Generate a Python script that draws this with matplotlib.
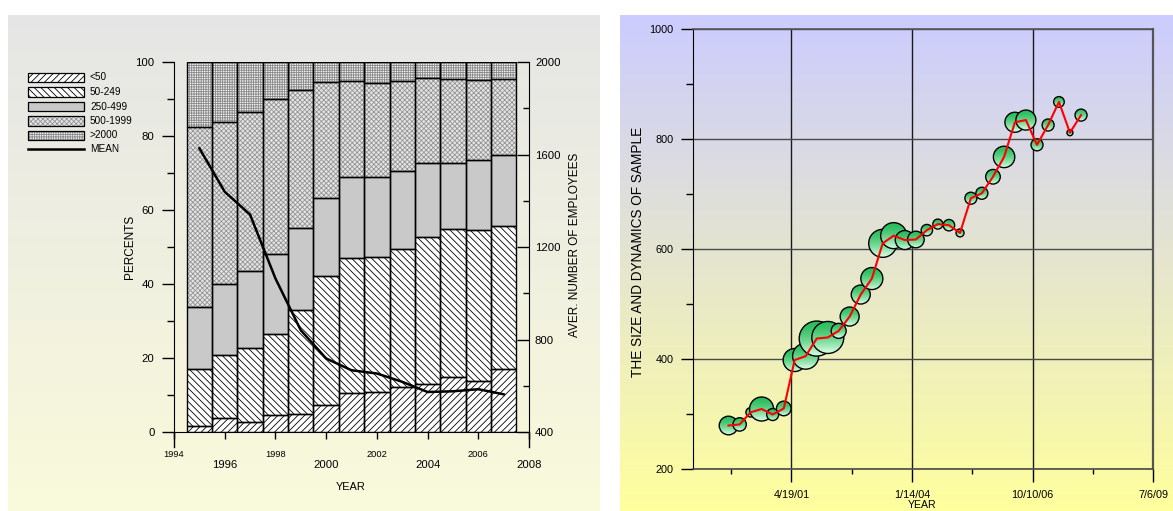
import datetime as dt
import numpy as np
import pandas as pd
import matplotlib
matplotlib.use("Agg")
import matplotlib.pyplot as plt
import matplotlib.dates as mdates
from matplotlib.patches import Rectangle, Ellipse
from matplotlib.ticker import FixedLocator, FuncFormatter

plt.rcParams["font.family"] = ["Liberation Sans", "DejaVu Sans"]
plt.rcParams["hatch.linewidth"] = 0.6

# left chart: structure of firms by number of employees, percent
years = [1995, 1996, 1997, 1998, 1999, 2000, 2001, 2002, 2003, 2004, 2005, 2006, 2007]
size_lt50 = [1.5, 3.9, 2.7, 4.6, 4.8, 7.4, 10.6, 10.9, 12.2, 13.1, 14.9, 13.9, 17.0]
size_50_249 = [15.6, 17.0, 20.1, 21.8, 28.2, 34.7, 36.3, 36.3, 37.3, 39.7, 39.9, 40.6, 38.8]
size_250_499 = [16.6, 19.0, 20.7, 21.6, 22.1, 21.2, 22.0, 21.6, 21.1, 20.0, 17.9, 18.9, 19.1]
size_500_1999 = [48.7, 43.9, 43.0, 41.9, 37.3, 31.3, 25.9, 25.4, 24.2, 22.9, 22.7, 21.7, 20.4]
size_gt2000 = [17.6, 16.2, 13.5, 10.1, 7.6, 5.4, 5.2, 5.8, 5.2, 4.3, 4.6, 4.9, 4.7]
mean_employees = [1627, 1439, 1340, 1064, 840, 718, 667, 653, 617, 573, 576, 585, 563]
class_labels = ["<50", "50-249", "250-499", "500-1999", ">2000"]

# right chart: sample size by quarter, bubble weight per observation
quarters = pd.period_range("1999Q4", "2007Q4", freq="Q")
sample_size = [279, 281, 303, 309, 299, 310, 398, 405, 437, 439, 451, 477, 517,
               546, 610, 624, 616, 617, 634, 645, 643, 629, 692, 701, 731, 767,
               830, 834, 789, 825, 867, 811, 843]
weight = [9.3, 6.7, 4.7, 12.0, 6.0, 7.3, 11.5, 13.0, 17.5, 16.0, 7.5, 9.5, 9.5,
          11.0, 14.0, 13.0, 9.5, 8.3, 5.7, 5.0, 5.7, 4.0, 6.0, 6.0, 7.3, 10.7,
          10.0, 10.0, 6.0, 6.0, 5.3, 3.0, 6.0]

W, H = 1173, 511
fig = plt.figure(figsize=(W / 100, H / 100), dpi=100)


def vgrad(top, bottom, n=256, power=1.0):
    t = (np.linspace(0, 1, n) ** power)[:, None, None]
    return (1 - t) * np.array(top) + t * np.array(bottom)


# backgrounds + hand-made legend, in pixel coords
bg = fig.add_axes([0, 0, 1, 1], zorder=-10)
bg.imshow(vgrad((0.90, 0.90, 0.90), (0.98, 0.98, 0.86)), extent=(8, 600, H, 15),
          aspect="auto", interpolation="bilinear")
bg.imshow(vgrad((0.80, 0.80, 1.0), (1.0, 1.0, 0.62)), extent=(620, W, H, 15),
          aspect="auto", interpolation="bilinear")
bg.set_xlim(0, W)
bg.set_ylim(H, 0)
bg.axis("off")

# face, hatch, hatch colour
styles = [
    ("white", "/////", "black"),
    ("white", "\\\\\\\\\\", "black"),
    ("#c9c9c9", None, "#c9c9c9"),
    ("#e4e4e4", "xxxxxxx", "#959595"),
    ("#f0f0f0", "+++++++", "#8a8a8a"),
]

for i, (lab, (face, hatch, hc)) in enumerate(zip(class_labels, styles)):
    y = 77.5 + i * 14.5
    bg.add_patch(Rectangle((28, y - 4.8), 56, 9.6, facecolor=face, hatch=hatch,
                           edgecolor=hc, linewidth=0))
    bg.add_patch(Rectangle((28, y - 4.8), 56, 9.6, fill=False, edgecolor="black", linewidth=0.9))
    bg.text(90, y, lab, va="center", ha="left", fontsize=7.2)
bg.plot([28, 84], [149.5, 149.5], color="black", lw=1.8)
bg.text(90, 149.5, "MEAN", va="center", ha="left", fontsize=7.2)

# ---------------- left chart ----------------
axl = fig.add_axes([174 / W, (H - 432) / H, 355 / W, 370 / H])
axl.set_facecolor("none")
bottom = np.zeros(len(years))
for vals, (face, hatch, hc) in zip([size_lt50, size_50_249, size_250_499,
                                    size_500_1999, size_gt2000], styles):
    vals = np.array(vals)
    axl.bar(years, vals, 1.0, bottom=bottom, color=face, hatch=hatch,
            edgecolor=hc, linewidth=0, zorder=2)
    axl.bar(years, vals, 1.0, bottom=bottom, fill=False, edgecolor="black",
            linewidth=1.0, zorder=3)
    bottom += vals

axl.set_xlim(1994, 2008)
axl.set_ylim(0, 100)
for s in ["top", "right"]:
    axl.spines[s].set_visible(False)
axl.set_yticks([0, 20, 40, 60, 80, 100])
axl.yaxis.set_minor_locator(FixedLocator([10, 30, 50, 70, 90]))
axl.tick_params(axis="y", which="major", length=8.6, width=1, pad=5.5, labelsize=8.2)
axl.tick_params(axis="y", which="minor", length=5, width=1)
axl.set_xticks([1996, 2000, 2004, 2008])
axl.set_xticks([1994, 1998, 2002, 2006], minor=True)
axl.set_xticklabels(["1996", "2000", "2004", "2008"])
axl.set_xticklabels(["1994", "1998", "2002", "2006"], minor=True)
axl.tick_params(axis="x", which="major", length=5, width=1, pad=15, labelsize=8.1)
axl.tick_params(axis="x", which="minor", length=5, width=1, pad=8.2, labelsize=6.7)
for xv in (1994, 2008):
    axl.plot([xv, xv], [0, -4.1], color="black", lw=1, clip_on=False)

ax2 = axl.twinx()
ax2.set_ylim(400, 2000)
for s in ["top", "left", "bottom"]:
    ax2.spines[s].set_visible(False)
ax2.set_yticks([400, 800, 1200, 1600, 2000])
ax2.yaxis.set_minor_locator(FixedLocator([600, 1000, 1400, 1800]))
ax2.tick_params(axis="y", which="major", direction="in", length=8.6, width=1,
                pad=4.3, labelsize=8.2)
ax2.tick_params(axis="y", which="minor", direction="in", length=4.5, width=1)
ax2.plot(years, mean_employees, color="black", lw=1.8, zorder=5)

fig.text(130 / W, 1 - 247 / H, "PERCENTS", rotation=90, ha="center", va="center", fontsize=8.5)
fig.text(575 / W, 1 - 245 / H, "AVER. NUMBER OF EMPLOYEES", rotation=90,
         ha="center", va="center", fontsize=8.5)
fig.text(351 / W, 1 - 487 / H, "YEAR", ha="center", va="center", fontsize=7.9)

# ---------------- right chart ----------------
ax_w, ax_h = 460.6, 440.3
axr = fig.add_axes([692.7 / W, (H - 469) / H, ax_w / W, ax_h / H])
axr.set_facecolor("none")
axr.set_autoscale_on(False)

major_dates = [dt.datetime(2001, 4, 19) + dt.timedelta(days=1000 * k) for k in range(4)]
minor_dates = [d - dt.timedelta(days=500) for d in major_dates]
x_lo = mdates.date2num(major_dates[0] - dt.timedelta(days=818))
x_hi = mdates.date2num(major_dates[-1])
axr.set_xlim(x_lo, x_hi)
axr.set_ylim(200, 1000)

dates = [q.start_time.to_pydatetime() + dt.timedelta(days=45) for q in quarters]
xs = mdates.date2num(dates)
dxpp = (x_hi - x_lo) / ax_w
dypp = 800 / ax_h
bubble_img = vgrad((0.16, 0.74, 0.36), (0.86, 1.0, 0.90), power=1.6)
for i, (xv, yv, w) in enumerate(zip(xs, sample_size, weight)):
    rx, ry = w * dxpp, w * dypp
    z = 3 + i * 0.01
    circ = Ellipse((xv, yv), 2 * rx, 2 * ry, facecolor="none", edgecolor="black",
                   linewidth=1.0, zorder=z + 0.005)
    axr.add_patch(circ)
    im = axr.imshow(bubble_img, extent=(xv - rx, xv + rx, yv - ry, yv + ry),
                    aspect="auto", interpolation="bilinear", zorder=z)
    im.set_clip_path(circ)
axr.plot(xs, sample_size, color="red", lw=1.5, zorder=10)
axr.set_xlim(x_lo, x_hi)
axr.set_ylim(200, 1000)

axr.set_xticks(mdates.date2num(major_dates))
axr.set_xticks(mdates.date2num(minor_dates), minor=True)
axr.xaxis.set_major_formatter(FuncFormatter(
    lambda v, p: "{}/{}/{:%y}".format(mdates.num2date(v).month, mdates.num2date(v).day,
                                       mdates.num2date(v))))
axr.set_yticks([200, 400, 600, 800, 1000])
axr.yaxis.set_minor_locator(FixedLocator([300, 500, 700, 900]))
axr.tick_params(axis="x", which="major", length=9, width=1, pad=6, labelsize=7.8)
axr.tick_params(axis="x", which="minor", length=3.6, width=1)
axr.tick_params(axis="y", which="major", length=9, width=1, pad=5, labelsize=7.8)
axr.tick_params(axis="y", which="minor", length=4.8, width=1)
axr.set_axisbelow(True)
axr.xaxis.grid(True, which="major", color="#1a1a1a", lw=1.0)
axr.yaxis.grid(True, which="major", color="#4a4a4a", lw=1.0)
axr.spines["left"].set_color("black")
axr.spines["bottom"].set_color("#4a4a4a")
axr.spines["bottom"].set_linewidth(1.2)
axr.spines["top"].set_color("#555555")
axr.spines["top"].set_linewidth(1.2)
axr.spines["right"].set_color("#555555")
axr.spines["right"].set_linewidth(1.6)

fig.text(638 / W, 1 - 252 / H, "THE SIZE AND DYNAMICS OF SAMPLE", rotation=90,
         ha="center", va="center", fontsize=9.8)
fig.text(922.5 / W, 1 - 505 / H, "YEAR", ha="center", va="center", fontsize=7.6)

fig.savefig("out.png", dpi=100)
